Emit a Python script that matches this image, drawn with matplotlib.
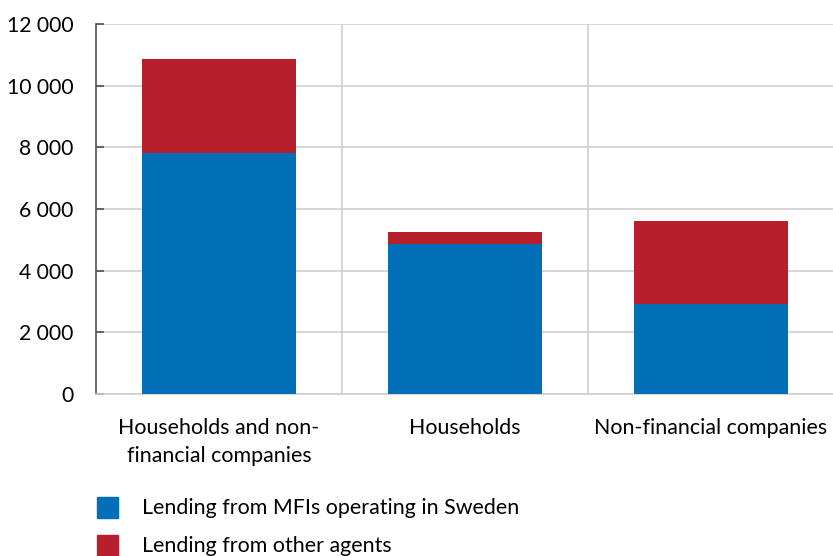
import matplotlib
matplotlib.use("Agg")
import matplotlib.pyplot as plt
from matplotlib.patches import Rectangle
from matplotlib.ticker import FuncFormatter

categories = ["Households and non-\nfinancial companies", "Households", "Non-financial companies"]
mfi = [7820, 4880, 2920]
other = [3030, 370, 2690]
series_names = ["Lending from MFIs operating in Sweden", "Lending from other agents"]

BLUE = "#006FB7"
RED = "#B81F2D"
GRID = "#CFCFCF"

plt.rcParams["font.family"] = ["Lato", "DejaVu Sans"]

fig = plt.figure(figsize=(8.33, 5.56), dpi=100)
ax = fig.add_axes([96 / 833, 1 - 394 / 556, 738 / 833, 370 / 556])

x = range(len(categories))
ax.bar(x, mfi, width=0.63, color=BLUE, zorder=3)
ax.bar(x, other, width=0.63, bottom=mfi, color=RED, zorder=3)

ax.set_xlim(-0.5, 2.5)
ax.set_ylim(0, 12000)
ax.set_yticks(range(0, 12001, 2000))
ax.yaxis.set_major_formatter(FuncFormatter(lambda v, p: f"{int(v):,}".replace(",", " ")))
ax.grid(axis="y", color=GRID, linewidth=1.2, zorder=0)
for b in [0.5, 1.5]:
    ax.axvline(b, color=GRID, linewidth=1.2, zorder=0)

ax.set_xticks(list(x))
ax.set_xticklabels(categories, fontsize=15.4, linespacing=1.5)
ax.tick_params(axis="x", length=0, pad=17)
ax.tick_params(axis="y", direction="in", length=6, width=1.2, color="#505050",
               labelsize=15.2, pad=16)

for s in ["top", "right"]:
    ax.spines[s].set_visible(False)
ax.spines["left"].set_color("#505050")
ax.spines["left"].set_linewidth(1.2)
ax.spines["bottom"].set_color(GRID)
ax.spines["bottom"].set_linewidth(1.2)

# legend drawn below the plot
for i, (name, col) in enumerate(zip(series_names, [BLUE, RED])):
    y = 1 - (497 + i * 38) / 556
    fig.patches.append(Rectangle((97 / 833, y - 21 / 556), 21 / 833, 21 / 556,
                                 transform=fig.transFigure, color=col))
    fig.text(142 / 833, y - 10.5 / 556, name, fontsize=15.4, va="center", ha="left")

fig.savefig("out.png", dpi=100)
